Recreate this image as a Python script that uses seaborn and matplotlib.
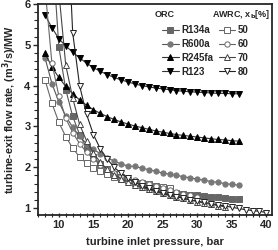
import numpy as np
import matplotlib
matplotlib.use("Agg")
import matplotlib.pyplot as plt
import seaborn as sns
from matplotlib.lines import Line2D
from matplotlib.ticker import MultipleLocator

# ORC curves
x_r134a = [9, 10, 11, 12, 13, 14, 15, 16, 17, 18, 19, 20, 21, 22, 23, 24, 25, 26, 27, 28, 29, 30, 31, 32, 33, 34, 35, 36]
y_r134a = [7.5, 4.95, 3.9, 3.25, 2.8, 2.48, 2.25, 2.08, 1.95, 1.84, 1.75, 1.68, 1.62, 1.56, 1.51, 1.47, 1.43, 1.40, 1.37, 1.35, 1.33, 1.31, 1.29, 1.27, 1.26, 1.24, 1.23, 1.22]

x_r600a = list(range(8, 37))
y_r600a = [4.68, 4.05, 3.6, 3.25, 2.98, 2.76, 2.58, 2.44, 2.33, 2.23, 2.15, 2.08, 2.03, 2.02, 1.98, 1.94, 1.90, 1.86, 1.83, 1.80, 1.77, 1.74, 1.71, 1.68, 1.65, 1.63, 1.60, 1.58, 1.56]

x_r245fa = list(range(8, 37))
y_r245fa = [4.8, 4.45, 4.2, 3.98, 3.8, 3.65, 3.52, 3.41, 3.32, 3.24, 3.17, 3.11, 3.06, 3.01, 2.97, 2.93, 2.89, 2.86, 2.83, 2.80, 2.78, 2.76, 2.74, 2.72, 2.70, 2.68, 2.67, 2.65, 2.64]

x_r123 = list(range(8, 37))
y_r123 = [5.73, 5.42, 5.15, 4.97, 4.82, 4.68, 4.55, 4.44, 4.35, 4.27, 4.20, 4.14, 4.09, 4.04, 4.0, 3.97, 3.94, 3.92, 3.90, 3.88, 3.86, 3.85, 3.84, 3.83, 3.82, 3.81, 3.81, 3.80, 3.80]

# AWRC curves, x_b = 50, 60, 70, 80 %
x_50 = list(range(8, 27))
y_50 = [4.14, 3.57, 3.1, 2.75, 2.47, 2.25, 2.1, 1.98, 1.9, 1.83, 1.77, 1.72, 1.68, 1.64, 1.61, 1.58, 1.55, 1.52, 1.49]

x_60 = list(range(8, 31))
y_60 = [6.4, 4.55, 3.75, 3.2, 2.85, 2.58, 2.37, 2.2, 2.06, 1.95, 1.86, 1.79, 1.73, 1.68, 1.63, 1.58, 1.53, 1.49, 1.44, 1.40, 1.35, 1.31, 1.27]

x_70 = list(range(10, 35))
y_70 = [6.3, 4.5, 3.7, 3.05, 2.65, 2.35, 2.12, 1.95, 1.82, 1.72, 1.64, 1.57, 1.51, 1.46, 1.41, 1.36, 1.32, 1.28, 1.24, 1.20, 1.16, 1.12, 1.09, 1.06, 1.03]

x_80 = list(range(11, 41))
y_80 = [9.0, 5.3, 4.0, 3.3, 2.8, 2.45, 2.2, 2.0, 1.85, 1.73, 1.63, 1.55, 1.48, 1.42, 1.37, 1.32, 1.28, 1.24, 1.20, 1.17, 1.14, 1.11, 1.08, 1.05, 1.02, 0.99, 0.96, 0.94, 0.92, 0.89]

orc_labels = ["R134a", "R600a", "R245fa", "R123"]
awrc_labels = ["50", "60", "70", "80"]

sns.set_style("ticks")
plt.rcParams['font.family'] = ['Liberation Sans', 'DejaVu Sans']
plt.rcParams['font.weight'] = 'bold'
plt.rcParams['mathtext.default'] = 'bf'

fig = plt.figure(figsize=(2.78, 2.5), dpi=100)
ax = fig.add_axes([0.137, 0.14, 0.841, 0.844])

series = [
    (x_r134a, y_r134a, 's', '#666666', '#666666', '#555555'),
    (x_r600a, y_r600a, 'o', '#777777', '#777777', '#555555'),
    (x_r245fa, y_r245fa, '^', 'black', 'black', '#333333'),
    (x_r123, y_r123, 'v', 'black', 'black', '#333333'),
    (x_50, y_50, 's', 'white', '#666666', '#666666'),
    (x_60, y_60, 'o', 'white', '#666666', '#666666'),
    (x_70, y_70, '^', 'white', '#444444', '#444444'),
    (x_80, y_80, 'v', 'white', '#222222', '#222222'),
]

handles = []
for xs, ys, mk, fc, ec, lc in series:
    sns.lineplot(x=xs, y=ys, ax=ax, color=lc, lw=0.8, marker=mk, markersize=3.8,
                 markerfacecolor=fc, markeredgecolor=ec, markeredgewidth=0.7, sort=False)
    handles.append(Line2D([], [], color=lc, lw=0.8, marker=mk, markersize=3.8,
                          markerfacecolor=fc, markeredgecolor=ec, markeredgewidth=0.7))

ax.set_xlim(7, 40.8)
ax.set_ylim(0.83, 6)
ax.set_xticks([10, 15, 20, 25, 30, 35, 40])
ax.set_yticks([1, 2, 3, 4, 5, 6])
ax.xaxis.set_minor_locator(MultipleLocator(1))
ax.yaxis.set_minor_locator(MultipleLocator(0.2))
ax.tick_params(axis='both', which='major', labelsize=8, width=1, length=3.5, pad=2)
ax.tick_params(axis='both', which='minor', width=0.8, length=3)
ax.tick_params(axis='x', which='both', direction='inout')
for lab in ax.get_xticklabels() + ax.get_yticklabels():
    lab.set_fontweight('bold')
for s in ax.spines.values():
    s.set_linewidth(1.3)

ax.set_xlabel("turbine inlet pressure, bar", fontsize=8, fontweight='bold', labelpad=5)
ax.set_ylabel(r"turbine-exit flow rate, (m$^{3}$/s)/MW", fontsize=7.8, fontweight='bold', labelpad=4)

# legend: two columns with their own titles
leg_handles = handles[:4] + handles[4:]
leg_labels = orc_labels + awrc_labels
ax.legend(leg_handles, leg_labels, ncol=2, frameon=False, loc='upper left',
          bbox_to_anchor=(0.53, 0.90), borderpad=0, borderaxespad=0,
          handlelength=1.7, handletextpad=0.25, columnspacing=0.6,
          labelspacing=0.4, prop={'weight': 'bold', 'size': 7})
ax.text(0.50, 0.95, "ORC", transform=ax.transAxes, fontsize=6.5, fontweight='bold', va='center')
ax.text(0.745, 0.95, r"AWRC, x$_{b}$[%]", transform=ax.transAxes, fontsize=6.5, fontweight='bold', va='center')

fig.savefig("out.png", dpi=100)
